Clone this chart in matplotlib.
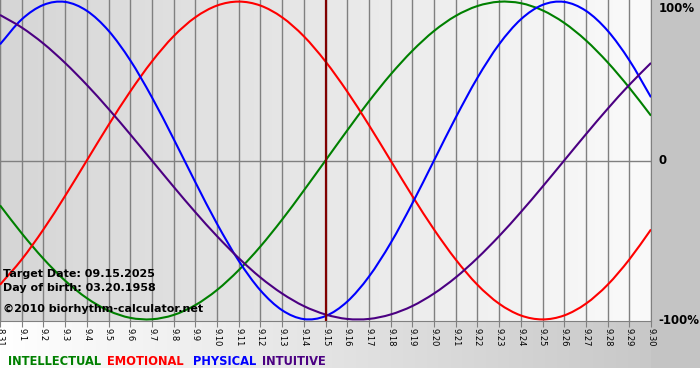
import numpy as np
import matplotlib
matplotlib.use('Agg')
import matplotlib.pyplot as plt
from matplotlib.colors import LinearSegmentedColormap
from matplotlib.transforms import blended_transform_factory
from matplotlib.path import Path
from matplotlib.patches import PathPatch

# days shown on the chart
dates = ['8.31', '9.1', '9.2', '9.3', '9.4', '9.5', '9.6', '9.7', '9.8', '9.9',
         '9.10', '9.11', '9.12', '9.13', '9.14', '9.15', '9.16', '9.17', '9.18',
         '9.19', '9.20', '9.21', '9.22', '9.23', '9.24', '9.25', '9.26', '9.27',
         '9.28', '9.29', '9.30']
target = '9.15'

# cycle values in percent, one per day
intellectual = [-28.2, -45.8, -61.8, -75.6, -86.6, -94.5, -99.0, -99.9, -97.2, -91.0,
                -81.5, -69.0, -54.1, -37.2, -18.9, 0.0, 18.9, 37.2, 54.1, 69.0,
                81.5, 91.0, 97.2, 99.9, 99.0, 94.5, 86.6, 75.6, 61.8, 45.8, 28.2]
emotional = [-78.2, -62.3, -43.4, -22.3, 0.0, 22.3, 43.4, 62.3, 78.2, 90.1,
             97.5, 100.0, 97.5, 90.1, 78.2, 62.3, 43.4, 22.3, 0.0, -22.3,
             -43.4, -62.3, -78.2, -90.1, -97.5, -100.0, -97.5, -90.1, -78.2, -62.3, -43.4]
physical = [73.1, 88.8, 97.9, 99.8, 94.2, 81.7, 63.1, 39.8, 13.6, -13.6,
            -39.8, -63.1, -81.7, -94.2, -99.8, -97.9, -88.8, -73.1, -52.0, -27.0,
            0.0, 27.0, 52.0, 73.1, 88.8, 97.9, 99.8, 94.2, 81.7, 63.1, 39.8]
intuitive = [91.6, 83.7, 73.6, 61.4, 47.6, 32.5, 16.5, 0.0, -16.5, -32.5,
             -47.6, -61.4, -73.6, -83.7, -91.6, -96.9, -99.7, -99.7, -96.9, -91.6,
             -83.7, -73.6, -61.4, -47.6, -32.5, -16.5, 0.0, 16.5, 32.5, 47.6, 61.4]

series = [('INTELLECTUAL', intellectual, '#008000'),
          ('EMOTIONAL', emotional, '#ff0000'),
          ('PHYSICAL', physical, '#0000ff'),
          ('INTUITIVE', intuitive, '#4b0082')]


def smooth_path(xs, ys):
    # bezier curve through the day points (catmull-rom style handles)
    pts = np.column_stack([xs, ys]).astype(float)
    ext = np.vstack([2 * pts[0] - pts[1], pts, 2 * pts[-1] - pts[-2]])
    verts = [pts[0]]
    codes = [Path.MOVETO]
    for i in range(len(pts) - 1):
        p0, p1, p2, p3 = ext[i], ext[i + 1], ext[i + 2], ext[i + 3]
        verts += [p1 + (p2 - p0) / 6, p2 - (p3 - p1) / 6, p2]
        codes += [Path.CURVE4] * 3
    return Path(verts, codes)


W, H = 700, 380
fig = plt.figure(figsize=(W / 100, H / 100), dpi=100, facecolor='white')

# background: grey strip on the right, white->grey band under the plot
bg = fig.add_axes([0, 0, 1, 1], zorder=-5)
bg.set_xlim(0, W)
bg.set_ylim(H, 0)
bg.axis('off')
band = LinearSegmentedColormap.from_list('band', ['#ffffff', '#c4c4c4'])
grad = np.linspace(0, 1, 256).reshape(1, -1)
bg.imshow(grad, cmap=band, extent=(0, W, 368, 321), aspect='auto')
bg.add_patch(plt.Rectangle((651, 0), W - 651, 368, color='#c4c4c4', lw=0))

ax = fig.add_axes([0, 1 - 321 / H, 651 / W, 321 / H])
ax.patch.set_alpha(0)
x = np.arange(len(dates))
ax.set_xlim(0, len(dates) - 1)
ax.set_ylim(-101, 101)

plot_bg = LinearSegmentedColormap.from_list('plotbg', ['#d6d6d6', '#fafafa'])
ax.imshow(grad, cmap=plot_bg, extent=(0, len(dates) - 1, -101, 101),
          aspect='auto', zorder=0)

ax.set_xticks(x)
ax.set_xticklabels(dates, rotation=-90, fontsize=6)
ax.tick_params(axis='x', length=4, color='#808080', pad=1)
ax.set_yticks([])
ax.grid(axis='x', color='#808080', lw=1, zorder=1)
ax.axhline(0, color='#808080', lw=1, zorder=1)
for side in ['left', 'bottom', 'right']:
    ax.spines[side].set_color('#808080')
ax.spines['top'].set_visible(False)

for name, vals, col in series:
    ax.add_patch(PathPatch(smooth_path(x, vals), fill=False, edgecolor=col,
                           lw=1.5, zorder=3))

ax.axvline(dates.index(target), color='#800000', lw=1.6, zorder=4)

# percentage labels on the right
tr = blended_transform_factory(ax.transAxes, ax.transData)
ax.text(1.012, 100, '100%', transform=tr, ha='left', va='top',
        fontsize=8.5, fontweight='bold', clip_on=False)
ax.text(1.012, 0, '0', transform=tr, ha='left', va='center',
        fontsize=8.5, fontweight='bold', clip_on=False)
ax.text(1.012, -101, '-100%', transform=tr, ha='left', va='center',
        fontsize=8.5, fontweight='bold', clip_on=False)

# info text inside the plot
info = ['Target Date: 09.15.2025', 'Day of birth: 03.20.1958',
        '\u00a92010 biorhythm-calculator.net']
for txt, yb in zip(info, [277, 291, 312]):
    fig.text(3 / W, 1 - yb / H, txt, fontsize=8, fontweight='bold',
             va='baseline', ha='left', zorder=10)

# legend as coloured words
lx = [8, 107, 193, 262]
for (name, vals, col), px in zip(series, lx):
    fig.text(px / W, 1 - 365 / H, name, color=col, fontsize=8.3,
             fontweight='bold', va='baseline', ha='left')

fig.savefig('out.png', dpi=100)
